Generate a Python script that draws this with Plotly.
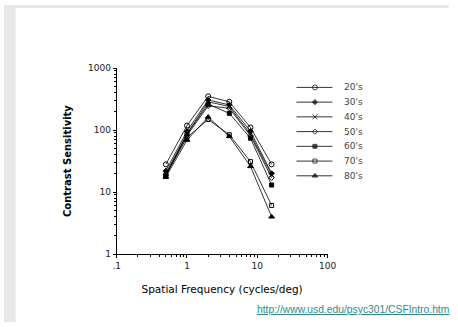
import plotly.graph_objects as go

freq = [0.5, 1, 2, 4, 8, 16]
s20 = [28, 118, 350, 285, 110, 28]
s30 = [22, 96, 305, 255, 96, 20]
s40 = [20, 88, 285, 240, 86, 19]
s50 = [19, 82, 245, 225, 81, 17]
s60 = [18, 86, 262, 186, 74, 13]
s70 = [19, 76, 148, 84, 31, 6.1]
s80 = [17.5, 69, 162, 79, 26, 4]
labels = ["20's", "30's", "40's", "50's", "60's", "70's", "80's"]
series = [s20, s30, s40, s50, s60, s70, s80]
symbols = ["circle-open", "diamond", "x-thin-open", "diamond-open", "square", "square-open", "triangle-up"]
sizes = [5, 4, 5, 4, 4, 4, 5]

x_tickvals = [0.1, 1, 10, 100]
x_ticktext = [".1", "1", "10", "100"]
y_tickvals = [1, 10, 100, 1000]
y_ticktext = ["1", "10", "100", "1000"]

W, H = 458, 327
font = "DejaVu Sans"

fig = go.Figure()
for lab, ys, sym, sz in zip(labels, series, symbols, sizes):
    fig.add_trace(go.Scatter(
        x=freq, y=ys, name=lab, mode="lines+markers", showlegend=False,
        line=dict(color="black", width=0.8),
        marker=dict(symbol=sym, size=sz, color="black",
                    line=dict(color="black", width=1)),
    ))

# manual legend drawn on a pixel-scaled overlay axis
leg_x0, leg_xm, leg_x1, leg_tx = 301, 320, 338, 348
leg_y0, leg_dy = 85, 15.2
for i, (lab, sym, sz) in enumerate(zip(labels, symbols, sizes)):
    yy = leg_y0 + i * leg_dy
    fig.add_trace(go.Scatter(
        x=[leg_x0, leg_xm, leg_x1], y=[yy, yy, yy], mode="lines+markers",
        xaxis="x2", yaxis="y2", showlegend=False, hoverinfo="skip",
        line=dict(color="black", width=0.8),
        marker=dict(symbol=sym, size=[0, sz, 0], color="black",
                    line=dict(color="black", width=1)),
    ))
    fig.add_annotation(text=lab, xref="x2", yref="y2", x=leg_tx, y=yy,
                       xanchor="left", yanchor="middle", showarrow=False,
                       font=dict(family=font, size=9, color="#444"))

fig.update_layout(
    width=W, height=H,
    margin=dict(l=0, r=0, t=0, b=0),
    paper_bgcolor="white", plot_bgcolor="rgba(0,0,0,0)",
    font=dict(family=font, size=9, color="#222"),
    showlegend=False,
    xaxis=dict(type="log", range=[-1, 2], domain=[116 / W, 333 / W],
               showline=True, linecolor="black", linewidth=1,
               ticks="outside", ticklen=3, tickcolor="black",
               tickvals=x_tickvals, ticktext=x_ticktext, showgrid=False, zeroline=False,
               minor=dict(ticks="outside", ticklen=2, tickcolor="black", dtick="D1", showgrid=False),
               title=dict(text="Spatial Frequency (cycles/deg)", standoff=15,
                          font=dict(family=font, size=10.5, color="black"))),
    yaxis=dict(type="log", range=[0, 3], domain=[(H - 257) / H, (H - 65) / H],
               showline=True, linecolor="black", linewidth=1,
               ticks="outside", ticklen=3, tickcolor="black",
               tickvals=y_tickvals, ticktext=y_ticktext, showgrid=False, zeroline=False,
               minor=dict(ticks="outside", ticklen=2, tickcolor="black", dtick="D1", showgrid=False),
               title=dict(text="<b>Contrast Sensitivity</b>", standoff=14,
                          font=dict(family=font, size=10, color="black"))),
    xaxis2=dict(domain=[0, 1], range=[0, W], visible=False, anchor="y2", fixedrange=True),
    yaxis2=dict(domain=[0, 1], range=[H, 0], visible=False, anchor="x2", fixedrange=True),
)

# grey frame strips
fig.add_shape(type="rect", xref="paper", yref="paper", x0=0, x1=12 / W, y0=0, y1=1,
              fillcolor="#e8e8e8", line=dict(width=0), layer="below")
fig.add_shape(type="rect", xref="paper", yref="paper", x0=0, x1=1, y0=(H - 3) / H, y1=1,
              fillcolor="#e8e8e8", line=dict(width=0), layer="below")

fig.add_annotation(text="<u>http://www.usd.edu/psyc301/CSFIntro.htm</u>",
                   xref="paper", yref="paper", x=460 / W, y=(H - 314) / H,
                   xanchor="right", yanchor="middle", showarrow=False,
                   font=dict(family="Liberation Sans", size=10.3, color="#2e8b8b"))

fig.write_html("out.html", config={"displayModeBar": False},
               post_script="document.body.style.margin='0px';document.body.style.overflow='hidden';")
